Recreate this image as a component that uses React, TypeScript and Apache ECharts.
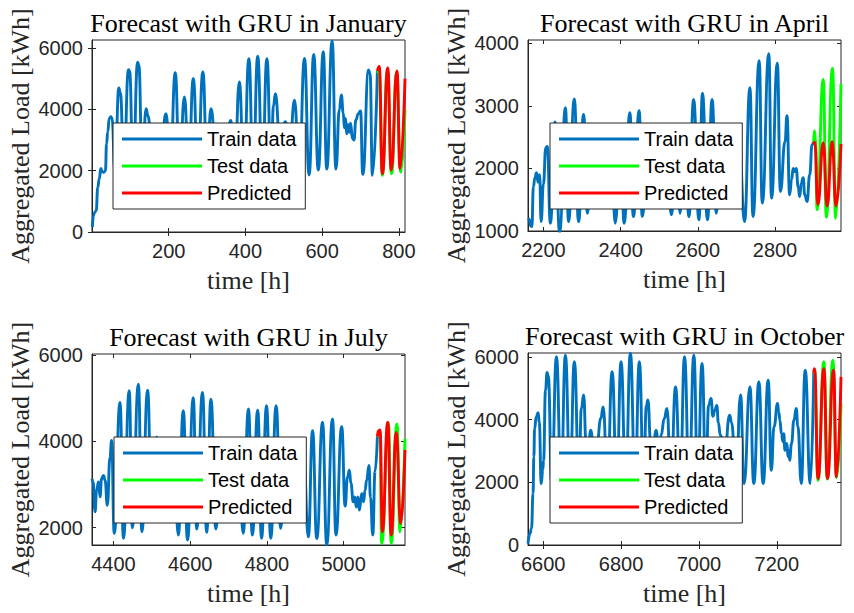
import React, { useEffect, useRef } from 'react';
import * as echarts from 'echarts';

type Pt = [number, number];

// ---------- January ----------
const janTrain: Pt[] = [
  [1, 160], [4, 550], [7, 640], [11, 700], [15, 1450], [19, 1740], [23, 2070], [27, 1960], [31, 1950], [35, 2000],
  [38, 2880], [41, 3260], [45, 3700], [49, 3760], [52, 3720], [60, 1950],
  [70, 4700], [74, 4530], [83, 2000], [95, 5290], [98, 5250], [107, 2000], [119, 5540], [122, 5450], [131, 2050],
  [141, 4020], [146, 3780], [155, 2900], [168, 3500], [180, 2800], [193, 3860], [204, 2000], [217, 5190], [228, 1950],
  [241, 4400], [252, 2000], [264, 5000], [276, 1950], [289, 5220], [300, 2050], [310, 4020], [322, 2900], [336, 3400],
  [348, 2800], [362, 3640], [372, 2000], [384, 4890], [396, 1900], [409, 5650], [420, 1900], [432, 5730], [444, 1900],
  [456, 5650], [467, 1950], [473, 4100], [478, 4510], [490, 2900], [504, 3600], [516, 2900], [528, 4300], [540, 1900],
  [554, 5660], [566, 1860], [578, 5790], [590, 2020], [603, 5880], [612, 2050], [626, 6230], [636, 2050], [645, 4000],
  [650, 4470], [655, 3880], [658, 3400], [661, 3700], [664, 3200], [668, 3500], [671, 3250], [674, 3550], [679, 3050],
  [683, 3000], [688, 3650], [694, 3850], [700, 3950], [706, 1880], [721, 5280], [725, 5150], [731, 1850], [744, 5250],
];
const janTest: Pt[] = [
  [744, 5250], [748, 5200], [757, 1850], [770, 5250], [781, 1900], [794, 5200], [805, 1950], [816, 3980],
];
const janPred: Pt[] = [
  [744, 5250], [749, 5400], [757, 1900], [771, 5350], [780, 2020], [795, 5250], [803, 2070], [816, 5000],
];
const janXTicks = [200, 400, 600, 800];
const janYTicks = [0, 2000, 4000, 6000];

// ---------- April ----------
const aprTrain: Pt[] = [
  [2160, 1200], [2163, 1190], [2167, 1080], [2170, 1070], [2174, 1710], [2178, 1850], [2182, 1930], [2186, 1780],
  [2190, 1900], [2194, 1150], [2200, 1750], [2206, 2330], [2210, 2350], [2218, 1124], [2230, 2740], [2242, 980],
  [2257, 2970], [2265, 1150], [2280, 3110], [2291, 1150], [2304, 2860], [2314, 1284], [2328, 2650], [2338, 1600],
  [2352, 2300], [2362, 1700], [2376, 2400], [2386, 1124], [2400, 2600], [2409, 1124], [2424, 2890], [2433, 1230],
  [2448, 2920], [2456, 1230], [2472, 2500], [2482, 1500], [2496, 2300], [2506, 1700], [2518, 2200], [2532, 1257],
  [2544, 2500], [2554, 1284], [2566, 2650], [2577, 1230], [2589, 3100], [2603, 1177], [2612, 3200], [2625, 1177],
  [2637, 3100], [2648, 1284], [2660, 2600], [2672, 1600], [2684, 2200], [2696, 1700], [2708, 2300], [2721, 1150],
  [2735, 3290], [2743, 1230], [2759, 3720], [2767, 1445], [2784, 3830], [2791, 1525], [2806, 3680], [2814, 1630],
  [2826, 2430], [2831, 2840], [2838, 1580], [2843, 1820], [2847, 2000], [2851, 1950], [2855, 2000], [2860, 1700],
  [2864, 1550], [2868, 1760], [2873, 1850], [2877, 1580], [2883, 1470], [2890, 1900], [2896, 2380], [2900, 2420],
];
const aprTest: Pt[] = [
  [2900, 2420], [2902, 2600], [2905, 2450], [2909, 1340], [2925, 3420], [2933, 1220], [2949, 3600], [2957, 1200], [2971, 3350],
];
const aprPred: Pt[] = [
  [2900, 2380], [2903, 2420], [2911, 1420], [2925, 2410], [2935, 1400], [2948, 2430], [2958, 1400], [2971, 2390],
];
const aprXTicks = [2200, 2400, 2600, 2800];
const aprYTicks = [1000, 2000, 3000, 4000];

// ---------- July ----------
const julTrain: Pt[] = [
  [4344, 3135], [4347, 3060], [4352, 2370], [4356, 2867], [4361, 3060], [4365, 2714], [4369, 3135], [4374, 3212],
  [4378, 3097], [4384, 2520], [4391, 3633], [4395, 4020], [4402, 1870], [4417, 4900], [4426, 1756], [4441, 5170],
  [4449, 2000], [4465, 5320], [4474, 1908], [4489, 5180], [4499, 2500], [4513, 4100], [4523, 2600], [4537, 3600],
  [4547, 2700], [4558, 3700], [4569, 1832], [4582, 4710], [4593, 1717], [4608, 5010], [4617, 1970], [4632, 5130],
  [4643, 1894], [4654, 4975], [4667, 1970], [4680, 3800], [4690, 2500], [4704, 3500], [4714, 2600], [4727, 3700],
  [4738, 1871], [4752, 4746], [4762, 1832], [4776, 4722], [4786, 1756], [4799, 4822], [4810, 1756], [4824, 4822],
  [4836, 1986], [4848, 3800], [4858, 2600], [4872, 3500], [4884, 2600], [4896, 3600], [4908, 1790], [4919, 4247],
  [4930, 1750], [4945, 4440], [4956, 1602], [4971, 4515], [4980, 1832], [4995, 4339], [5004, 2500], [5010, 3170],
  [5015, 3330], [5019, 3030], [5025, 2600], [5029, 2714], [5033, 2480], [5037, 2714], [5041, 2407], [5047, 2790],
  [5052, 2600], [5056, 2870], [5060, 3097], [5066, 3440], [5070, 2700], [5076, 1832], [5082, 3300], [5088, 4110],
];
const julTest: Pt[] = [
  [5088, 4110], [5091, 4170], [5095, 4210], [5099, 1640], [5117, 4420], [5124, 1640], [5139, 4400], [5147, 1908], [5160, 4055],
];
const julPred: Pt[] = [
  [5088, 4110], [5091, 4247], [5095, 4260], [5101, 1908], [5115, 4440], [5124, 1832], [5137, 4200], [5149, 2100], [5160, 3800],
];
const julXTicks = [4400, 4600, 4800, 5000];
const julYTicks = [2000, 4000, 6000];

// ---------- October ----------
const octTrain: Pt[] = [
  [6561, 46], [6566, 365], [6570, 525], [6574, 1640], [6576, 2810], [6578, 3700], [6582, 4085], [6587, 4220],
  [6590, 3900], [6595, 1960], [6599, 2400], [6601, 2700], [6606, 4935], [6610, 5500], [6613, 5400], [6622, 1950],
  [6634, 6000], [6646, 1950], [6657, 6050], [6669, 1950], [6680, 5840], [6692, 2000], [6698, 4350], [6704, 4780],
  [6710, 3300], [6716, 3000], [6722, 3660], [6730, 3000], [6738, 3200], [6748, 4030], [6754, 4400], [6765, 1950],
  [6777, 5520], [6789, 1950], [6800, 5840], [6812, 1950], [6824, 6110], [6836, 1950], [6847, 5840], [6858, 2000],
  [6865, 4430], [6869, 4620], [6876, 3300], [6882, 3000], [6890, 3650], [6897, 3000], [6903, 3500], [6911, 4030],
  [6918, 4350], [6928, 1950], [6940, 5040], [6952, 1950], [6963, 6000], [6975, 1950], [6987, 6050], [6997, 1950],
  [7008, 5790], [7018, 2000], [7025, 4450], [7031, 4670], [7036, 4100], [7041, 4300], [7046, 4450], [7050, 3900],
  [7055, 3500], [7066, 2900], [7079, 4140], [7084, 3900], [7095, 1950], [7107, 4780], [7116, 1960], [7131, 5040],
  [7141, 1960], [7154, 5200], [7165, 1960], [7178, 5250], [7186, 2380], [7193, 3770], [7202, 4510], [7205, 4250],
  [7208, 3980], [7212, 3550], [7216, 3290], [7218, 3550], [7221, 3020], [7226, 3240], [7229, 2810], [7231, 3020],
  [7233, 2700], [7238, 3240], [7244, 3980], [7250, 4350], [7254, 3800], [7263, 1960], [7273, 5570], [7286, 1960],
  [7295, 5490],
];
const octTest: Pt[] = [
  [7295, 5490], [7297, 5570], [7306, 2060], [7321, 5840], [7330, 2100], [7344, 5890], [7354, 2150], [7365, 4510],
];
const octPred: Pt[] = [
  [7295, 5490], [7297, 5620], [7306, 2120], [7321, 5620], [7330, 2120], [7346, 5570], [7353, 2170], [7365, 5360],
];
const octXTicks = [6600, 6800, 7000, 7200];
const octYTicks = [0, 2000, 4000, 6000];

const seriesNames = ['Train data', 'Test data', 'Predicted'];
const seriesColors = ['#0072BD', '#00FF00', '#FF0000'];

const panels = [
  { title: 'Forecast with GRU in January', data: [janTrain, janTest, janPred], x: [0, 816], xt: janXTicks, y: [0, 6260], yt: janYTicks,
    box: [92, 40, 313, 192], leg: [113, 123] },
  { title: 'Forecast with GRU in April', data: [aprTrain, aprTest, aprPred], x: [2160, 2971], xt: aprXTicks, y: [1000, 4050], yt: aprYTicks,
    box: [528, 40, 313, 191], leg: [550, 123] },
  { title: 'Forecast with GRU in July', data: [julTrain, julTest, julPred], x: [4344, 5160], xt: julXTicks, y: [1600, 6020], yt: julYTicks,
    box: [92, 354, 313, 191], leg: [114, 437] },
  { title: 'Forecast with GRU in October', data: [octTrain, octTest, octPred], x: [6561, 7365], xt: octXTicks, y: [0, 6120], yt: octYTicks,
    box: [528, 353, 313, 192], leg: [550, 437] },
];

const AX = '#262626';
const SANS = 'Liberation Sans';
const SERIF = 'Liberation Serif';

function buildOption() {
  const grid: any[] = [];
  const xAxis: any[] = [];
  const yAxis: any[] = [];
  const series: any[] = [];
  const title: any[] = [];
  const legend: any[] = [];
  const fmt = (v: number) => String(v);
  panels.forEach((p, i) => {
    const [l, t, w, h] = p.box;
    grid.push({ left: l, top: t, width: w, height: h, show: true, borderColor: AX, borderWidth: 1, containLabel: false });
    const tick = (vals: number[]) => ({ show: true, inside: true, length: 4, customValues: vals, lineStyle: { color: AX, width: 1 } });
    xAxis.push({
      gridIndex: i, type: 'value', min: p.x[0], max: p.x[1], position: 'bottom',
      axisLine: { show: true, onZero: false, lineStyle: { color: AX, width: 1 } },
      axisTick: tick(p.xt),
      axisLabel: { customValues: p.xt, formatter: fmt, fontFamily: SANS, fontSize: 20, color: AX, margin: 9 },
      splitLine: { show: false },
      name: 'time [h]', nameLocation: 'middle', nameGap: 35,
      nameTextStyle: { fontFamily: SERIF, fontSize: 26, color: AX },
    });
    xAxis.push({
      gridIndex: i, type: 'value', min: p.x[0], max: p.x[1], position: 'top',
      axisLine: { show: false }, axisTick: tick(p.xt), axisLabel: { show: false }, splitLine: { show: false },
    });
    yAxis.push({
      gridIndex: i, type: 'value', min: p.y[0], max: p.y[1], position: 'left',
      axisLine: { show: true, onZero: false, lineStyle: { color: AX, width: 1 } },
      axisTick: tick(p.yt),
      axisLabel: { customValues: p.yt, formatter: fmt, fontFamily: SANS, fontSize: 20, color: AX, margin: 9 },
      splitLine: { show: false },
      name: 'Aggregated Load [kWh]', nameLocation: 'middle', nameGap: 59, nameRotate: 90,
      nameTextStyle: { fontFamily: SERIF, fontSize: 26, color: AX },
    });
    yAxis.push({
      gridIndex: i, type: 'value', min: p.y[0], max: p.y[1], position: 'right',
      axisLine: { show: false }, axisTick: tick(p.yt), axisLabel: { show: false }, splitLine: { show: false },
    });
    p.data.forEach((d, k) => {
      series.push({
        name: seriesNames[k], type: 'line', xAxisIndex: 2 * i, yAxisIndex: 2 * i,
        data: d, symbol: 'none', smooth: 0.5, smoothMonotone: 'x', clip: true,
        lineStyle: { color: seriesColors[k], width: 2.9 }, itemStyle: { color: seriesColors[k] },
        z: 2 + k,
      });
    });
    title.push({
      text: p.title, left: l + w / 2, top: t - 30, textAlign: 'center', padding: 0,
      textStyle: { fontFamily: SERIF, fontSize: 26, fontWeight: 'normal', color: '#000' },
    });
    legend.push({
      left: p.leg[0], top: p.leg[1], orient: 'vertical', data: seriesNames, icon: 'rect',
      itemWidth: 80, itemHeight: 3, itemGap: 7, padding: [6, 9, 6, 9], selectedMode: false,
      backgroundColor: '#fff', borderColor: AX, borderWidth: 1,
      textStyle: { fontFamily: SANS, fontSize: 20, color: '#000' }, z: 10,
    });
  });
  return { animation: false, backgroundColor: '#fff', grid, xAxis, yAxis, series, title, legend };
}

export default function App() {
  const ref = useRef<HTMLDivElement>(null);
  useEffect(() => {
    if (!ref.current) return;
    const chart = echarts.init(ref.current, undefined, { renderer: 'svg' });
    chart.setOption(buildOption() as any);
    return () => chart.dispose();
  }, []);
  return (
    <div
      ref={ref}
      style={{ position: 'fixed', left: 0, top: 0, width: 854, height: 613, background: '#fff' }}
    />
  );
}
